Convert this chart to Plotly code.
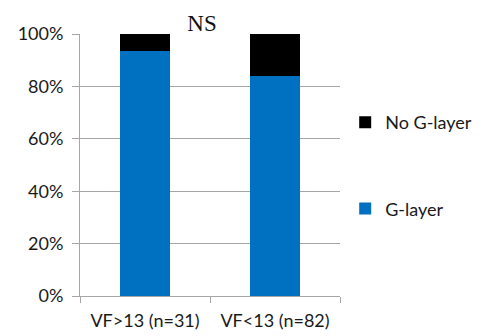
import plotly.graph_objects as go

categories = ["VF>13 (n=31)", "VF<13 (n=82)"]
g_layer = [29 / 31, 69 / 82]
no_g_layer = [2 / 31, 13 / 82]
y_ticks = [0, 0.2, 0.4, 0.6, 0.8, 1.0]
y_tick_labels = ["0%", "20%", "40%", "60%", "80%", "100%"]

W, H = 473, 328  # page body adds an 8px margin

fig = go.Figure()
fig.add_trace(go.Bar(x=categories, y=g_layer, name="G-layer",
                     marker=dict(color="#0070C0", line=dict(width=0)),
                     legendgroup="a", legendrank=2, width=0.39))
fig.add_trace(go.Bar(x=categories, y=no_g_layer, name="No G-layer",
                     marker=dict(color="#000000", line=dict(width=0)),
                     legendgroup="b", legendrank=1, width=0.39))

fig.update_layout(
    barmode="stack",
    width=W, height=H,
    margin=dict(l=72, r=141, t=26, b=40, autoexpand=False),
    paper_bgcolor="white", plot_bgcolor="white",
    font=dict(family="Lato, sans-serif", size=18, color="#1a1a1a"),
    title=dict(text="NS", x=194 / W, xanchor="center", y=1 - 15 / H, yanchor="middle",
               font=dict(family="Liberation Serif, serif", size=23, color="#111111")),
    showlegend=True,
    legend=dict(x=1.02, y=0.733, xanchor="left", yanchor="top", traceorder="grouped",
                tracegroupgap=60, font=dict(size=18, color="#1a1a1a"),
                itemwidth=30),
    xaxis=dict(showgrid=False, showline=True, linecolor="#a6a6a6", linewidth=1,
               ticks="outside", tickson="boundaries", ticklen=6, tickcolor="#a6a6a6",
               ticklabelstandoff=8, automargin=False),
    yaxis=dict(range=[0, 1], tickvals=y_ticks, ticktext=y_tick_labels,
               showgrid=True, gridcolor="#a6a6a6", gridwidth=1,
               showline=True, linecolor="#a6a6a6", linewidth=1,
               ticks="outside", ticklen=7, tickcolor="#a6a6a6",
               ticklabelstandoff=5, zeroline=False, automargin=False),
)

fig.write_html("out.html")
